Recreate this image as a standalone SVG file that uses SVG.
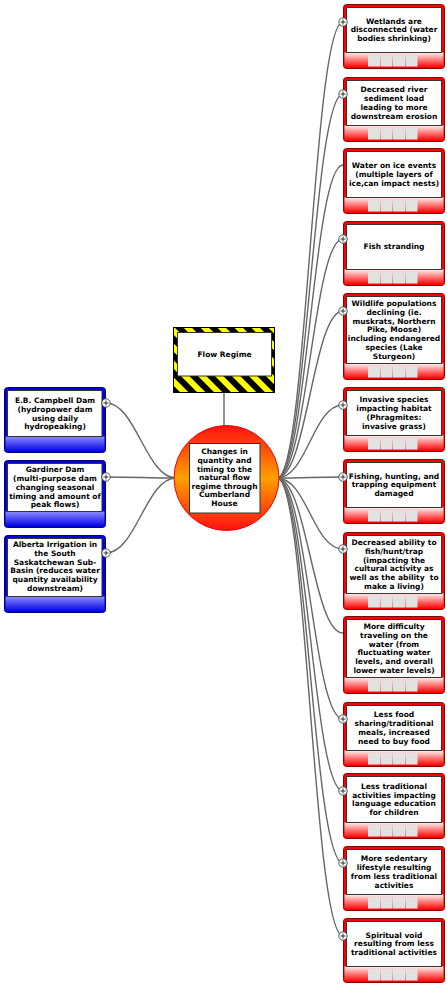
<svg xmlns="http://www.w3.org/2000/svg" width="447" height="987" viewBox="0 0 447 987">
<defs>
<linearGradient id="rg" x1="0" y1="0" x2="0" y2="1"><stop offset="0" stop-color="#fff0f0"/><stop offset="1" stop-color="#ff0000"/></linearGradient>
<linearGradient id="bg" x1="0" y1="0" x2="0" y2="1"><stop offset="0" stop-color="#8c8cff"/><stop offset="1" stop-color="#0000e8"/></linearGradient>
<linearGradient id="cg" x1="0" y1="0" x2="0" y2="1"><stop offset="0" stop-color="#ff1010"/><stop offset="0.5" stop-color="#ffa000"/><stop offset="1" stop-color="#ff1010"/></linearGradient>
<pattern id="hz" patternUnits="userSpaceOnUse" width="12" height="12" patternTransform="rotate(-45)"><rect width="12" height="12" fill="#ffff00"/><rect width="6" height="12" fill="#000"/></pattern>
<g id="plus"><circle r="4.2" fill="#fff" stroke="#444" stroke-width="0.9"/><path d="M-2.5 0H2.5M0 -2.5V2.5" stroke="#222" stroke-width="0.9"/></g>
<g id="cells"><rect x="0" y="0" width="12" height="11.5"/><rect x="12.5" y="0" width="12" height="11.5"/><rect x="25" y="0" width="12" height="11.5"/><rect x="37.5" y="0" width="12" height="11.5"/></g>
</defs>
<style>
.rf{fill:#ff0000;stroke:#8b0000;stroke-width:1}
.bf{fill:#0000e0;stroke:#000080;stroke-width:1}
.ib{fill:#fff;stroke:#333;stroke-width:1}
.cell{fill:#e2e2e2}
.t{font-family:"DejaVu Sans",Verdana,sans-serif;font-weight:bold;font-size:7.5px;fill:#000;text-anchor:middle}
.c{fill:none;stroke:#666;stroke-width:1.4}
</style>
<g id="connectors">
<path class="c" d="M224 393V427"/>
<path class="c" d="M176 478C146 478 136 403 106 403"/>
<path class="c" d="M176 478C146 478 136 477 106 477"/>
<path class="c" d="M176 478C146 478 136 553 106 553"/>
<path class="c" d="M277 478C307 478 313 22 343 22"/>
<path class="c" d="M277 478C307 478 313 94 343 94"/>
<path class="c" d="M277 478C307 478 313 165 343 165"/>
<path class="c" d="M277 478C307 478 313 239 343 239"/>
<path class="c" d="M277 478C307 478 313 311 343 311"/>
<path class="c" d="M277 478C307 478 313 405 343 405"/>
<path class="c" d="M277 478C307 478 313 477 343 477"/>
<path class="c" d="M277 478C307 478 313 549 343 549"/>
<path class="c" d="M277 478C307 478 313 633 343 633"/>
<path class="c" d="M277 478C307 478 313 719 343 719"/>
<path class="c" d="M277 478C307 478 313 791 343 791"/>
<path class="c" d="M277 478C307 478 313 863 343 863"/>
<path class="c" d="M277 478C307 478 313 936 343 936"/>
</g>
<g id="flow-regime">
<rect x="173.5" y="327.5" width="101" height="65" fill="url(#hz)" stroke="#000" stroke-width="1"/>
<rect class="ib" x="177.5" y="332.5" width="94" height="43.5"/>
<text class="t" x="224.5" y="357">Flow Regime</text>
</g>
<g id="center">
<circle cx="226.5" cy="478" r="52.5" fill="url(#cg)" stroke="#ee0000" stroke-width="1"/>
<rect class="ib" x="189.5" y="443.5" width="70.5" height="69.5"/>
<text class="t" x="224.5" y="454.4"><tspan x="224.5">Changes in</tspan><tspan x="224.5" dy="8.6">quantity and</tspan><tspan x="224.5" dy="8.6">timing to the</tspan><tspan x="224.5" dy="8.6">natural flow</tspan><tspan x="224.5" dy="8.6">regime through</tspan><tspan x="224.5" dy="8.6">Cumberland</tspan><tspan x="224.5" dy="8.6">House</tspan></text>
</g>
<g id="left-a">
<rect class="bf" x="4.5" y="387.5" width="101" height="65" rx="3"/>
<rect x="5.5" y="436.5" width="99" height="15" fill="url(#bg)"/>
<rect class="ib" x="7.5" y="390.5" width="94.5" height="46"/>
<text class="t" x="55" y="403.2"><tspan x="55">E.B. Campbell Dam</tspan><tspan x="55" dy="8.7">(hydropower dam</tspan><tspan x="55" dy="8.7">using daily</tspan><tspan x="55" dy="8.7">hydropeaking)</tspan></text>
<use href="#plus" x="106" y="403"/>
</g>
<g id="left-b">
<rect class="bf" x="4.5" y="460.5" width="101" height="67" rx="3"/>
<rect x="5.5" y="511.5" width="99" height="15" fill="url(#bg)"/>
<rect class="ib" x="7.5" y="463.5" width="94.5" height="48"/>
<text class="t" x="55" y="472.4"><tspan x="55">Gardiner Dam</tspan><tspan x="55" dy="8.7">(multi-purpose dam</tspan><tspan x="55" dy="8.7">changing seasonal</tspan><tspan x="55" dy="8.7">timing and amount of</tspan><tspan x="55" dy="8.7">peak flows)</tspan></text>
<use href="#plus" x="106" y="477"/>
</g>
<g id="left-c">
<rect class="bf" x="4.5" y="535.5" width="101" height="77" rx="3"/>
<rect x="5.5" y="596.5" width="99" height="15" fill="url(#bg)"/>
<rect class="ib" x="7.5" y="538.5" width="94.5" height="58"/>
<text class="t" x="55" y="547.3"><tspan x="55">Alberta Irrigation in</tspan><tspan x="55" dy="8.7">the South</tspan><tspan x="55" dy="8.7">Saskatchewan Sub-</tspan><tspan x="55" dy="8.7">Basin (reduces water</tspan><tspan x="55" dy="8.7">quantity availability</tspan><tspan x="55" dy="8.7">downstream)</tspan></text>
<use href="#plus" x="106" y="553"/>
</g>
<g id="r1">
<rect class="rf" x="343.5" y="4.5" width="101" height="64" rx="3"/>
<rect x="344.5" y="52.5" width="99" height="15" fill="url(#rg)"/>
<rect class="ib" x="346.5" y="7.5" width="95" height="45"/>
<use href="#cells" class="cell" x="368" y="55"/>
<text class="t" x="394" y="23.75"><tspan x="394">Wetlands are</tspan><tspan x="394" dy="8.7">disconnected (water</tspan><tspan x="394" dy="8.7">bodies shrinking)</tspan></text>
<use href="#plus" x="343" y="22"/>
</g>
<g id="r2">
<rect class="rf" x="343.5" y="77.5" width="101" height="64" rx="3"/>
<rect x="344.5" y="125.5" width="99" height="15" fill="url(#rg)"/>
<rect class="ib" x="346.5" y="80.5" width="95" height="45"/>
<use href="#cells" class="cell" x="368" y="128"/>
<text class="t" x="394" y="92.4"><tspan x="394">Decreased river</tspan><tspan x="394" dy="8.7">sediment load</tspan><tspan x="394" dy="8.7">leading to more</tspan><tspan x="394" dy="8.7">downstream erosion</tspan></text>
<use href="#plus" x="343" y="94"/>
</g>
<g id="r3">
<rect class="rf" x="343.5" y="148.5" width="101" height="65" rx="3"/>
<rect x="344.5" y="197.5" width="99" height="15" fill="url(#rg)"/>
<rect class="ib" x="346.5" y="151.5" width="95" height="46"/>
<use href="#cells" class="cell" x="368" y="200"/>
<text class="t" x="394" y="168.25"><tspan x="394">Water on ice events</tspan><tspan x="394" dy="8.7">(multiple layers of</tspan><tspan x="394" dy="8.7">ice,can impact nests)</tspan></text>
</g>
<g id="r4">
<rect class="rf" x="343.5" y="221.5" width="101" height="64" rx="3"/>
<rect x="344.5" y="269.5" width="99" height="15" fill="url(#rg)"/>
<rect class="ib" x="346.5" y="224.5" width="95" height="45"/>
<use href="#cells" class="cell" x="368" y="272"/>
<text class="t" x="394" y="249.45">Fish stranding</text>
<use href="#plus" x="343" y="239"/>
</g>
<g id="r5">
<rect class="rf" x="343.5" y="293.5" width="101" height="86" rx="3"/>
<rect x="344.5" y="363.5" width="99" height="15" fill="url(#rg)"/>
<rect class="ib" x="346.5" y="296.5" width="95" height="67"/>
<use href="#cells" class="cell" x="368" y="366"/>
<text class="t" x="394" y="306.35"><tspan x="394">Wildlife populations</tspan><tspan x="394" dy="8.7">declining (ie.</tspan><tspan x="394" dy="8.7">muskrats, Northern</tspan><tspan x="394" dy="8.7">Pike, Moose)</tspan><tspan x="394" dy="8.7">including endangered</tspan><tspan x="394" dy="8.7">species (Lake</tspan><tspan x="394" dy="8.7">Sturgeon)</tspan></text>
<use href="#plus" x="343" y="311"/>
</g>
<g id="r6">
<rect class="rf" x="343.5" y="387.5" width="101" height="64" rx="3"/>
<rect x="344.5" y="435.5" width="99" height="15" fill="url(#rg)"/>
<rect class="ib" x="346.5" y="390.5" width="95" height="45"/>
<use href="#cells" class="cell" x="368" y="438"/>
<text class="t" x="394" y="402.4"><tspan x="394">Invasive species</tspan><tspan x="394" dy="8.7">impacting habitat</tspan><tspan x="394" dy="8.7">(Phragmites:</tspan><tspan x="394" dy="8.7">invasive grass)</tspan></text>
<use href="#plus" x="343" y="405"/>
</g>
<g id="r7">
<rect class="rf" x="343.5" y="459.5" width="101" height="64" rx="3"/>
<rect x="344.5" y="507.5" width="99" height="15" fill="url(#rg)"/>
<rect class="ib" x="346.5" y="462.5" width="95" height="45"/>
<use href="#cells" class="cell" x="368" y="510"/>
<text class="t" x="394" y="478.75"><tspan x="394">Fishing, hunting, and</tspan><tspan x="394" dy="8.7">trapping equipment</tspan><tspan x="394" dy="8.7">damaged</tspan></text>
<use href="#plus" x="343" y="477"/>
</g>
<g id="r8">
<rect class="rf" x="343.5" y="532.5" width="101" height="77" rx="3"/>
<rect x="344.5" y="593.5" width="99" height="15" fill="url(#rg)"/>
<rect class="ib" x="346.5" y="535.5" width="95" height="58"/>
<use href="#cells" class="cell" x="368" y="596"/>
<text class="t" x="394" y="545.2"><tspan x="394">Decreased ability to</tspan><tspan x="394" dy="8.7">fish/hunt/trap</tspan><tspan x="394" dy="8.7">(impacting the</tspan><tspan x="394" dy="8.7">cultural activity as</tspan><tspan x="394" dy="8.7" xml:space="preserve">well as the ability  to</tspan><tspan x="394" dy="8.7">make a living)</tspan></text>
<use href="#plus" x="343" y="549"/>
</g>
<g id="r9">
<rect class="rf" x="343.5" y="616.5" width="101" height="77" rx="3"/>
<rect x="344.5" y="677.5" width="99" height="15" fill="url(#rg)"/>
<rect class="ib" x="346.5" y="619.5" width="95" height="58"/>
<use href="#cells" class="cell" x="368" y="680"/>
<text class="t" x="394" y="629.2"><tspan x="394">More difficulty</tspan><tspan x="394" dy="8.7">traveling on the</tspan><tspan x="394" dy="8.7">water (from</tspan><tspan x="394" dy="8.7">fluctuating water</tspan><tspan x="394" dy="8.7">levels, and overall</tspan><tspan x="394" dy="8.7">lower water levels)</tspan></text>
</g>
<g id="r10">
<rect class="rf" x="343.5" y="702.5" width="101" height="64" rx="3"/>
<rect x="344.5" y="750.5" width="99" height="15" fill="url(#rg)"/>
<rect class="ib" x="346.5" y="705.5" width="95" height="45"/>
<use href="#cells" class="cell" x="368" y="753"/>
<text class="t" x="394" y="717.4"><tspan x="394">Less food</tspan><tspan x="394" dy="8.7">sharing/traditional</tspan><tspan x="394" dy="8.7">meals, increased</tspan><tspan x="394" dy="8.7">need to buy food</tspan></text>
<use href="#plus" x="343" y="719"/>
</g>
<g id="r11">
<rect class="rf" x="343.5" y="773.5" width="101" height="65" rx="3"/>
<rect x="344.5" y="822.5" width="99" height="15" fill="url(#rg)"/>
<rect class="ib" x="346.5" y="776.5" width="95" height="46"/>
<use href="#cells" class="cell" x="368" y="825"/>
<text class="t" x="394" y="788.9"><tspan x="394">Less traditional</tspan><tspan x="394" dy="8.7">activities impacting</tspan><tspan x="394" dy="8.7">language education</tspan><tspan x="394" dy="8.7">for children</tspan></text>
<use href="#plus" x="343" y="791"/>
</g>
<g id="r12">
<rect class="rf" x="343.5" y="846.5" width="101" height="64" rx="3"/>
<rect x="344.5" y="894.5" width="99" height="15" fill="url(#rg)"/>
<rect class="ib" x="346.5" y="849.5" width="95" height="45"/>
<use href="#cells" class="cell" x="368" y="897"/>
<text class="t" x="394" y="861.4"><tspan x="394">More sedentary</tspan><tspan x="394" dy="8.7">lifestyle resulting</tspan><tspan x="394" dy="8.7">from less traditional</tspan><tspan x="394" dy="8.7">activities</tspan></text>
<use href="#plus" x="343" y="863"/>
</g>
<g id="r13">
<rect class="rf" x="343.5" y="918.5" width="101" height="64" rx="3"/>
<rect x="344.5" y="966.5" width="99" height="15" fill="url(#rg)"/>
<rect class="ib" x="346.5" y="921.5" width="95" height="45"/>
<use href="#cells" class="cell" x="368" y="969"/>
<text class="t" x="394" y="937.75"><tspan x="394">Spiritual void</tspan><tspan x="394" dy="8.7">resulting from less</tspan><tspan x="394" dy="8.7">traditional activities</tspan></text>
<use href="#plus" x="343" y="936"/>
</g>
</svg>
